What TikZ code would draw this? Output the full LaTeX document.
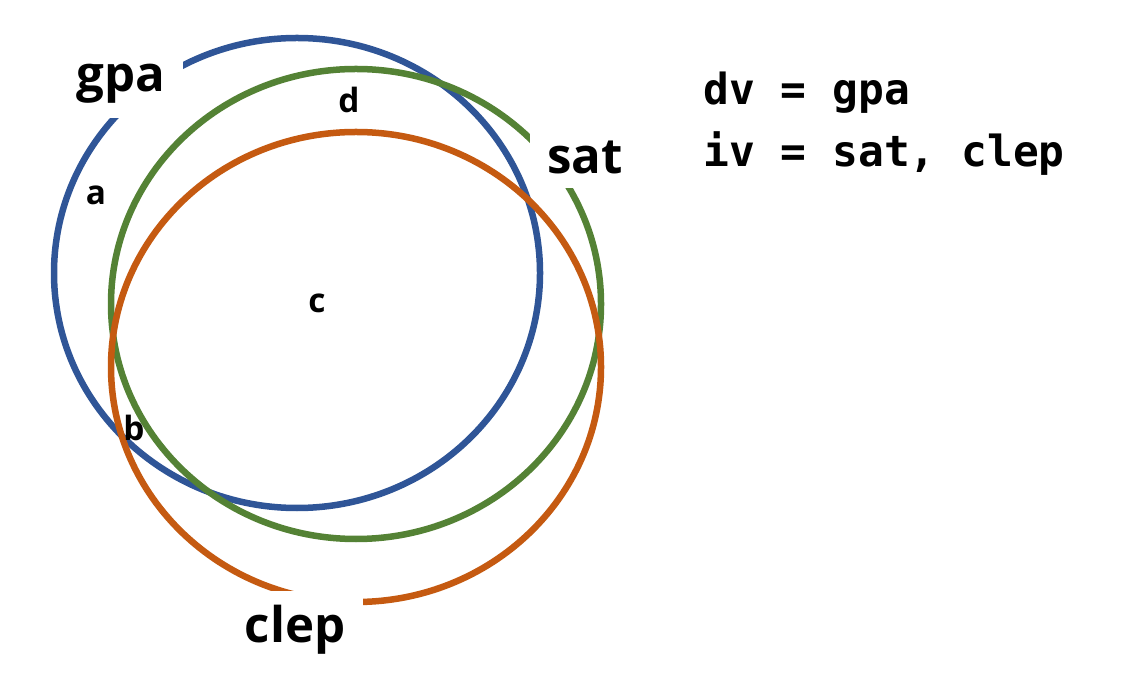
\documentclass[tikz,border=0pt]{standalone}
\usepackage{fontspec}
\usepackage{xcolor}
\definecolor{ColGpa}{RGB}{47,85,151}
\definecolor{ColSat}{RGB}{84,130,53}
\definecolor{ColClep}{RGB}{197,90,17}
\newfontfamily\lblfont{Open Sans}
\newfontfamily\codefont{DejaVu Sans Mono}
\usepackage{tikz}
\tikzstyle{Ring}=[line width=3.7pt]
\tikzstyle{VarName}=[fill=white,inner xsep=10pt,inner ysep=8pt,
font=\lblfont\bfseries\fontsize{28}{34}\selectfont]
\tikzstyle{Part}=[inner sep=0pt,font=\lblfont\bfseries\fontsize{19}{22}\selectfont]
\tikzstyle{Code}=[anchor=base west,inner sep=0pt,
font=\codefont\bfseries\fontsize{24.4}{28}\selectfont]

\begin{document}
\begin{tikzpicture}[x=0.02cm,y=0.02cm]
        \useasboundingbox(0,0)rectangle(1128,693);
        \draw[Ring,draw=ColGpa](297,420)ellipse(243 and 235);
        \draw[Ring,draw=ColSat](356,389)ellipse(245 and 235);
        \draw[Ring,draw=ColClep](356,326)ellipse(245 and 235);
        \node[VarName](gpa)at(121,609){gpa};
        \node[VarName](sat)at(585,536){sat};
        \node[VarName](clep)at(295,63){clep};
        \node[Part](a)at(96,498){a};
        \node[Part](d)at(349,593){d};
        \node[Part](c)at(317,390){c};
        \node[Part](b)at(134,265){b};
        \node[Code](dv)at(703,588){dv = gpa};
        \node[Code](iv)at(703,526){iv = sat, clep};
    \end{tikzpicture}
\end{document}
